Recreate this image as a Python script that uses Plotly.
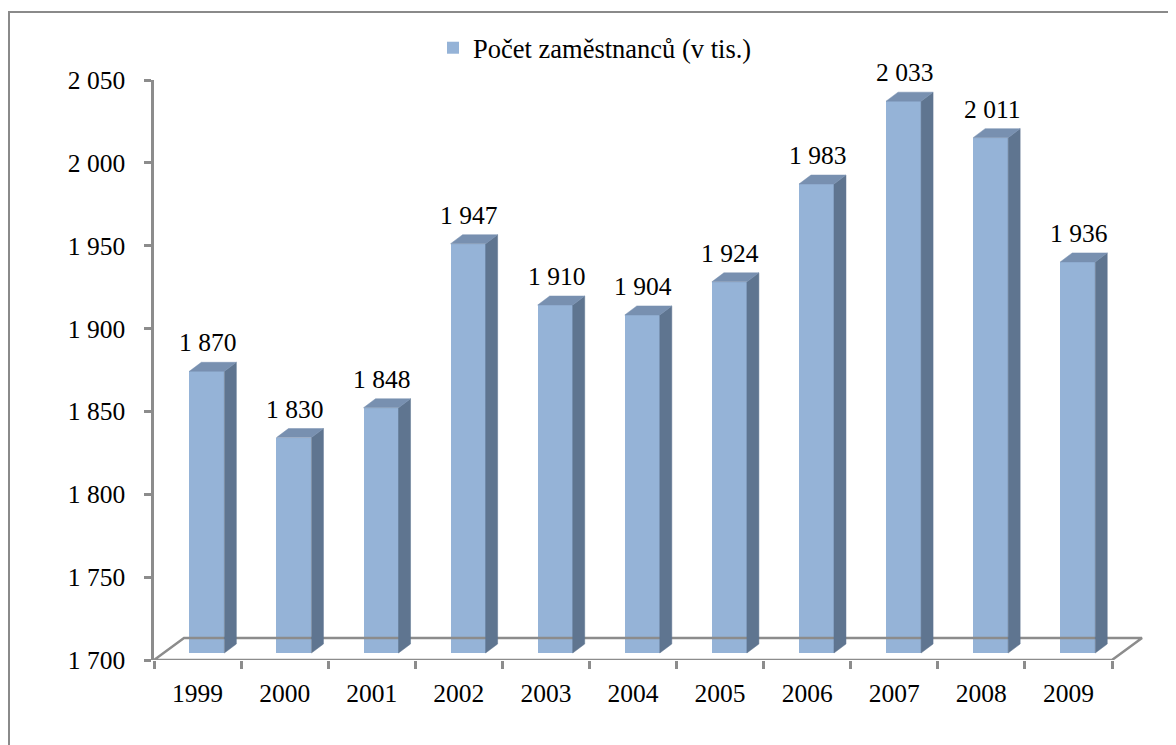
import plotly.graph_objects as go

# ---- data ----
years = ["1999", "2000", "2001", "2002", "2003", "2004", "2005", "2006", "2007", "2008", "2009"]
employees = [1870, 1830, 1848, 1947, 1910, 1904, 1924, 1983, 2033, 2011, 1936]
series_name = "Počet zaměstnanců (v tis.)"
y_min, y_max, y_step = 1700, 2050, 50

# ---- geometry (pseudo-3D, in axis units) ----
OFF = 8  # page body margin
W, H = 1176 - OFF, 745 - OFF
L, R, T, B = 154 - OFF, 26, 80 - OFF, 93 - OFF
n = len(years)
x_lo = -0.5
px_per_cat = (1112 - 154) / n
x_hi = x_lo + (W - L - R) / px_per_cat
px_per_val = (H - T - B) / (y_max - y_min)

bar_w = 35 / px_per_cat
bar_off = -8.2 / px_per_cat
lift = 7 / px_per_val            # bars sit slightly behind the front plane
ddx = 12 / px_per_cat           # depth of each bar
ddy = 9 / px_per_val
floor_dx = 30 / px_per_cat
floor_dy = 22 / px_per_val

FRONT = "#95B3D7"
SIDE = "#5F7590"
TOP = "#7890B0"
GRID = "#8C8C8C"
FONT = "Liberation Serif"
FS = 25.5

xs = list(range(n))
base = y_min + lift

fig = go.Figure()

# floor (parallelogram lines)
fx = [x_lo, x_lo + floor_dx, x_lo + n + floor_dx, x_lo + n, x_lo]
fy = [y_min, y_min + floor_dy, y_min + floor_dy, y_min, y_min]
fig.add_trace(go.Scatter(x=fx, y=fy, mode="lines", line=dict(color=GRID, width=2.5),
                         hoverinfo="skip", showlegend=False, cliponaxis=False))

# front faces
fig.add_trace(go.Bar(
    x=xs, y=[v - y_min for v in employees], base=[base] * n,
    width=bar_w, offset=bar_off, marker=dict(color=FRONT, line=dict(width=0)),
    name=series_name, showlegend=True,
))

# side and top faces
sx, sy = [], []
tx, ty = [], []
for i, v in enumerate(employees):
    xl = i + bar_off
    xr = xl + bar_w
    top = v + lift
    sx += [xr, xr + ddx, xr + ddx, xr, xr, None]
    sy += [base, base + ddy, top + ddy, top, base, None]
    tx += [xl, xl + ddx, xr + ddx, xr, xl, None]
    ty += [top, top + ddy, top + ddy, top, top, None]
fig.add_trace(go.Scatter(x=sx, y=sy, mode="lines", fill="toself", fillcolor=SIDE,
                         line=dict(width=0.5, color=SIDE), hoverinfo="skip", showlegend=False))
fig.add_trace(go.Scatter(x=tx, y=ty, mode="lines", fill="toself", fillcolor=TOP,
                         line=dict(width=0.5, color=TOP), hoverinfo="skip", showlegend=False))

# data labels
for i, v in enumerate(employees):
    fig.add_annotation(
        x=i + bar_off + bar_w / 2 + 0.01, y=v + lift,
        text=f"{v // 1000} {v % 1000:03d}", showarrow=False,
        yanchor="bottom", yshift=12,
        font=dict(family=FONT, size=FS, color="black"),
    )

# outer chart frame
pw, ph = (W - L - R), (H - T - B)
fig.add_shape(type="rect", xref="paper", yref="paper",
              x0=(1 - L) / pw, x1=1.2,
              y0=-0.3, y1=(H - B - (12 - OFF)) / ph,
              line=dict(color="#8A8A8A", width=2), layer="below")

fig.update_layout(
    width=W, height=H,
    margin=dict(l=L, r=R, t=T, b=B, pad=0),
    paper_bgcolor="white", plot_bgcolor="white",
    separators=". ",
    font=dict(family=FONT, size=FS, color="black"),
    bargap=0,
    legend=dict(
        x=(433 - OFF - L) / pw, xanchor="left",
        y=(H - B - (48 - OFF)) / ph, yanchor="middle",
        orientation="h", font=dict(family=FONT, size=26.5, color="black"),
        bgcolor="rgba(0,0,0,0)", itemwidth=30,
    ),
    xaxis=dict(
        range=[x_lo, x_hi], showgrid=False, zeroline=False, showline=False,
        tickmode="array", tickvals=xs, ticktext=years, ticks="",
        ticklabelstandoff=15,
        minor=dict(tickmode="array", tickvals=[x_lo + k for k in range(n + 1)],
                   ticks="outside", ticklen=8, tickwidth=2.5, tickcolor=GRID),
        tickfont=dict(family=FONT, size=FS, color="black"),
    ),
    yaxis=dict(
        range=[y_min, y_max], showgrid=False, zeroline=False,
        showline=True, linecolor=GRID, linewidth=2.5,
        tickmode="linear", tick0=y_min, dtick=y_step, tickformat=",d",
        ticks="outside", ticklen=7, tickwidth=2.5, tickcolor=GRID,
        ticklabelstandoff=14,
        tickfont=dict(family=FONT, size=FS, color="black"),
    ),
)

fig.write_html("out.html")
